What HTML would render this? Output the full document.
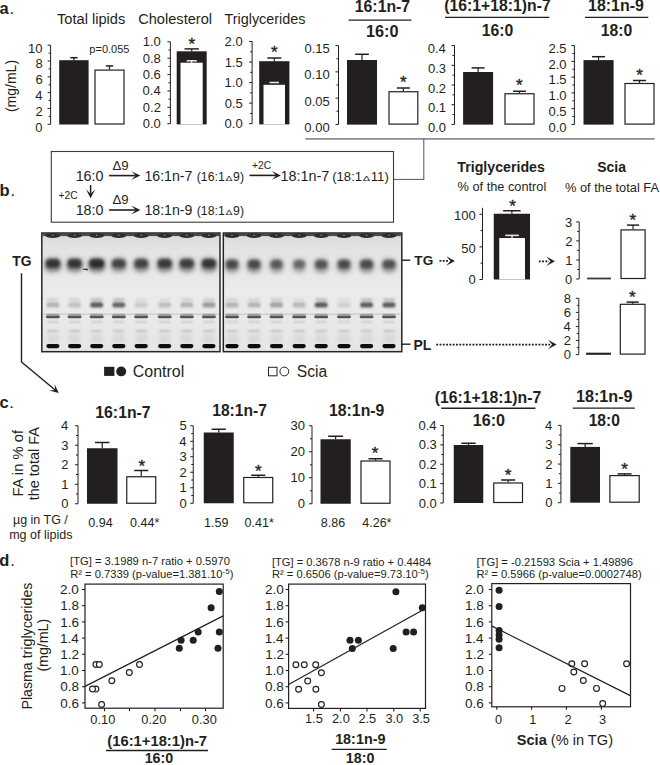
<!DOCTYPE html>
<html><head><meta charset="utf-8"><style>
html,body{margin:0;padding:0;background:#fff;}
svg{display:block;font-family:"Liberation Sans",sans-serif;}
</style></head><body>
<svg width="660" height="765" viewBox="0 0 660 765">
<rect width="660" height="765" fill="#fff"/>
<text x="-0.41" y="13.5" font-size="16.5" font-weight="bold" fill="#231f20">a</text>
<text x="9.6" y="13.5" font-size="16.5" fill="#231f20">.</text>
<text x="57.01" y="23.5" font-size="14.63" fill="#231f20">Total lipids</text>
<text x="138.17" y="23.6" font-size="14.62" fill="#231f20">Cholesterol</text>
<text x="224.51" y="23.6" font-size="14.39" fill="#231f20">Triglycerides</text>
<line x1="50.6" y1="45.2" x2="50.6" y2="124.3" stroke="#231f20" stroke-width="1"/>
<line x1="47.6" y1="45.2" x2="50.6" y2="45.2" stroke="#231f20" stroke-width="1"/>
<text x="42.59" y="52.55" font-size="13" text-anchor="end" fill="#231f20">10</text>
<line x1="48.6" y1="53.11" x2="50.6" y2="53.11" stroke="#231f20" stroke-width="1"/>
<line x1="47.6" y1="61.02" x2="50.6" y2="61.02" stroke="#231f20" stroke-width="1"/>
<text x="42.64" y="68.37" font-size="13" text-anchor="end" fill="#231f20">8</text>
<line x1="48.6" y1="68.93" x2="50.6" y2="68.93" stroke="#231f20" stroke-width="1"/>
<line x1="47.6" y1="76.84" x2="50.6" y2="76.84" stroke="#231f20" stroke-width="1"/>
<text x="42.64" y="84.19" font-size="13" text-anchor="end" fill="#231f20">6</text>
<line x1="48.6" y1="84.75" x2="50.6" y2="84.75" stroke="#231f20" stroke-width="1"/>
<line x1="47.6" y1="92.66" x2="50.6" y2="92.66" stroke="#231f20" stroke-width="1"/>
<text x="42.44" y="100.01" font-size="13" text-anchor="end" fill="#231f20">4</text>
<line x1="48.6" y1="100.57" x2="50.6" y2="100.57" stroke="#231f20" stroke-width="1"/>
<line x1="47.6" y1="108.47999999999999" x2="50.6" y2="108.47999999999999" stroke="#231f20" stroke-width="1"/>
<text x="42.7" y="115.83" font-size="13" text-anchor="end" fill="#231f20">2</text>
<line x1="48.6" y1="116.38999999999999" x2="50.6" y2="116.38999999999999" stroke="#231f20" stroke-width="1"/>
<line x1="47.6" y1="124.3" x2="50.6" y2="124.3" stroke="#231f20" stroke-width="1"/>
<text x="42.57" y="131.65" font-size="13" text-anchor="end" fill="#231f20">0</text>
<line x1="73.9" y1="57.7" x2="73.9" y2="60.2" stroke="#231f20" stroke-width="1.2"/>
<line x1="70.2" y1="57.7" x2="77.60000000000001" y2="57.7" stroke="#231f20" stroke-width="1.5"/>
<rect x="59.2" y="60.2" width="29.39999999999999" height="64.3" fill="#231f20"/>
<line x1="109.5" y1="65.9" x2="109.5" y2="69.6" stroke="#231f20" stroke-width="1.2"/>
<line x1="105.8" y1="65.9" x2="113.2" y2="65.9" stroke="#231f20" stroke-width="1.5"/>
<rect x="95.0" y="70.1" width="29.0" height="53.900000000000006" fill="#fff" stroke="#231f20" stroke-width="1.2"/>
<text x="89.34" y="52.5" font-size="11.02" fill="#231f20">p=0.055</text>
<text transform="translate(16.3,86) rotate(-90)" font-size="14" text-anchor="middle" fill="#231f20">(mg/mL)</text>
<line x1="170.4" y1="41.8" x2="170.4" y2="123.7" stroke="#231f20" stroke-width="1"/>
<line x1="167.4" y1="41.8" x2="170.4" y2="41.8" stroke="#231f20" stroke-width="1"/>
<text x="160.76" y="46.35" font-size="13" text-anchor="end" fill="#231f20">1.0</text>
<line x1="168.4" y1="49.989999999999995" x2="170.4" y2="49.989999999999995" stroke="#231f20" stroke-width="1"/>
<line x1="167.4" y1="58.18" x2="170.4" y2="58.18" stroke="#231f20" stroke-width="1"/>
<text x="160.82" y="62.73" font-size="13" text-anchor="end" fill="#231f20">0.8</text>
<line x1="168.4" y1="66.37" x2="170.4" y2="66.37" stroke="#231f20" stroke-width="1"/>
<line x1="167.4" y1="74.56" x2="170.4" y2="74.56" stroke="#231f20" stroke-width="1"/>
<text x="160.82" y="79.11" font-size="13" text-anchor="end" fill="#231f20">0.6</text>
<line x1="168.4" y1="82.75" x2="170.4" y2="82.75" stroke="#231f20" stroke-width="1"/>
<line x1="167.4" y1="90.94" x2="170.4" y2="90.94" stroke="#231f20" stroke-width="1"/>
<text x="160.63" y="95.49" font-size="13" text-anchor="end" fill="#231f20">0.4</text>
<line x1="168.4" y1="99.13" x2="170.4" y2="99.13" stroke="#231f20" stroke-width="1"/>
<line x1="167.4" y1="107.32000000000001" x2="170.4" y2="107.32000000000001" stroke="#231f20" stroke-width="1"/>
<text x="160.89" y="111.87" font-size="13" text-anchor="end" fill="#231f20">0.2</text>
<line x1="168.4" y1="115.51" x2="170.4" y2="115.51" stroke="#231f20" stroke-width="1"/>
<line x1="167.4" y1="123.7" x2="170.4" y2="123.7" stroke="#231f20" stroke-width="1"/>
<text x="160.76" y="128.25" font-size="13" text-anchor="end" fill="#231f20">0.0</text>
<line x1="191.7" y1="48.9" x2="191.7" y2="51.3" stroke="#231f20" stroke-width="1.2"/>
<line x1="184.5" y1="48.9" x2="198.89999999999998" y2="48.9" stroke="#231f20" stroke-width="1.5"/>
<rect x="176.7" y="51.3" width="30.0" height="73.10000000000001" fill="#231f20"/>
<rect x="180.5" y="62.7" width="22.2" height="61.7" fill="#fff"/>
<line x1="191.6" y1="60.8" x2="191.6" y2="62.7" stroke="#fff" stroke-width="1.2"/>
<line x1="186.6" y1="60.8" x2="196.8" y2="60.8" stroke="#eee" stroke-width="1.5"/>
<text x="191.7" y="50.46" font-size="17" text-anchor="middle" fill="#231f20" stroke="#231f20" stroke-width="0.35">*</text>
<line x1="252.1" y1="41.5" x2="252.1" y2="123.7" stroke="#231f20" stroke-width="1"/>
<line x1="249.1" y1="41.5" x2="252.1" y2="41.5" stroke="#231f20" stroke-width="1"/>
<text x="242.66" y="46.05" font-size="13" text-anchor="end" fill="#231f20">2.0</text>
<line x1="250.1" y1="51.775" x2="252.1" y2="51.775" stroke="#231f20" stroke-width="1"/>
<line x1="249.1" y1="62.05" x2="252.1" y2="62.05" stroke="#231f20" stroke-width="1"/>
<text x="242.72" y="66.6" font-size="13" text-anchor="end" fill="#231f20">1.5</text>
<line x1="250.1" y1="72.325" x2="252.1" y2="72.325" stroke="#231f20" stroke-width="1"/>
<line x1="249.1" y1="82.6" x2="252.1" y2="82.6" stroke="#231f20" stroke-width="1"/>
<text x="242.66" y="87.15" font-size="13" text-anchor="end" fill="#231f20">1.0</text>
<line x1="250.1" y1="92.875" x2="252.1" y2="92.875" stroke="#231f20" stroke-width="1"/>
<line x1="249.1" y1="103.15" x2="252.1" y2="103.15" stroke="#231f20" stroke-width="1"/>
<text x="242.72" y="107.7" font-size="13" text-anchor="end" fill="#231f20">0.5</text>
<line x1="250.1" y1="113.42500000000001" x2="252.1" y2="113.42500000000001" stroke="#231f20" stroke-width="1"/>
<line x1="249.1" y1="123.7" x2="252.1" y2="123.7" stroke="#231f20" stroke-width="1"/>
<text x="242.66" y="128.25" font-size="13" text-anchor="end" fill="#231f20">0.0</text>
<line x1="274.29999999999995" y1="58" x2="274.29999999999995" y2="61.2" stroke="#231f20" stroke-width="1.2"/>
<line x1="267.29999999999995" y1="58" x2="281.29999999999995" y2="58" stroke="#231f20" stroke-width="1.5"/>
<rect x="259.2" y="61.2" width="30.19999999999999" height="63.2" fill="#231f20"/>
<rect x="263.5" y="84.8" width="21.5" height="39.60000000000001" fill="#fff"/>
<line x1="269.5" y1="82.5" x2="279" y2="82.5" stroke="#eee" stroke-width="1.5"/>
<text x="274.25" y="57.76" font-size="17" text-anchor="middle" fill="#231f20" stroke="#231f20" stroke-width="0.35">*</text>
<text x="354.8" y="12.1" font-size="15.81" font-weight="bold" fill="#231f20">16:1n-7</text>
<line x1="348.5" y1="20.1" x2="411.5" y2="20.1" stroke="#231f20" stroke-width="1.3"/>
<text x="366.02" y="36.8" font-size="16.27" font-weight="bold" fill="#231f20">16:0</text>
<text x="444.29" y="11" font-size="15.75" font-weight="bold" fill="#231f20">(16:1+18:1)n-7</text>
<line x1="445" y1="17.3" x2="549.3" y2="17.3" stroke="#231f20" stroke-width="1.3"/>
<text x="481.75" y="35.7" font-size="15.75" font-weight="bold" fill="#231f20">16:0</text>
<text x="588.04" y="11" font-size="15.95" font-weight="bold" fill="#231f20">18:1n-9</text>
<line x1="585" y1="17.3" x2="648.3" y2="17.3" stroke="#231f20" stroke-width="1.3"/>
<text x="600.75" y="35.7" font-size="15.75" font-weight="bold" fill="#231f20">18:0</text>
<line x1="338.5" y1="45.6" x2="338.5" y2="124.4" stroke="#231f20" stroke-width="1"/>
<line x1="335.5" y1="45.6" x2="338.5" y2="45.6" stroke="#231f20" stroke-width="1"/>
<text x="329.74" y="53.15" font-size="13" text-anchor="end" fill="#231f20">0.15</text>
<line x1="336.5" y1="58.733333333333334" x2="338.5" y2="58.733333333333334" stroke="#231f20" stroke-width="1"/>
<line x1="335.5" y1="71.86666666666667" x2="338.5" y2="71.86666666666667" stroke="#231f20" stroke-width="1"/>
<text x="329.67" y="79.42" font-size="13" text-anchor="end" fill="#231f20">0.10</text>
<line x1="336.5" y1="85.00000000000001" x2="338.5" y2="85.00000000000001" stroke="#231f20" stroke-width="1"/>
<line x1="335.5" y1="98.13333333333334" x2="338.5" y2="98.13333333333334" stroke="#231f20" stroke-width="1"/>
<text x="329.74" y="105.68" font-size="13" text-anchor="end" fill="#231f20">0.05</text>
<line x1="336.5" y1="111.26666666666668" x2="338.5" y2="111.26666666666668" stroke="#231f20" stroke-width="1"/>
<line x1="335.5" y1="124.4" x2="338.5" y2="124.4" stroke="#231f20" stroke-width="1"/>
<text x="329.67" y="131.95" font-size="13" text-anchor="end" fill="#231f20">0.00</text>
<line x1="362.0" y1="54.25" x2="362.0" y2="60" stroke="#231f20" stroke-width="1.2"/>
<line x1="355.125" y1="54.25" x2="368.875" y2="54.25" stroke="#231f20" stroke-width="1.5"/>
<rect x="347" y="60" width="30" height="64.6" fill="#231f20"/>
<line x1="403.4" y1="88" x2="403.4" y2="91.25" stroke="#231f20" stroke-width="1.2"/>
<line x1="396.9" y1="88" x2="409.9" y2="88" stroke="#231f20" stroke-width="1.5"/>
<rect x="389.0" y="91.75" width="28.80000000000001" height="32.349999999999994" fill="#fff" stroke="#231f20" stroke-width="1.2"/>
<text x="403.25" y="88.25" font-size="17" text-anchor="middle" fill="#231f20" stroke="#231f20" stroke-width="0.35">*</text>
<line x1="454.5" y1="45.6" x2="454.5" y2="124.4" stroke="#231f20" stroke-width="1"/>
<line x1="451.5" y1="45.6" x2="454.5" y2="45.6" stroke="#231f20" stroke-width="1"/>
<text x="445.83" y="53.15" font-size="13" text-anchor="end" fill="#231f20">0.4</text>
<line x1="452.5" y1="55.45" x2="454.5" y2="55.45" stroke="#231f20" stroke-width="1"/>
<line x1="451.5" y1="65.30000000000001" x2="454.5" y2="65.30000000000001" stroke="#231f20" stroke-width="1"/>
<text x="446.02" y="72.85" font-size="13" text-anchor="end" fill="#231f20">0.3</text>
<line x1="452.5" y1="75.15" x2="454.5" y2="75.15" stroke="#231f20" stroke-width="1"/>
<line x1="451.5" y1="85.0" x2="454.5" y2="85.0" stroke="#231f20" stroke-width="1"/>
<text x="446.09" y="92.55" font-size="13" text-anchor="end" fill="#231f20">0.2</text>
<line x1="452.5" y1="94.85" x2="454.5" y2="94.85" stroke="#231f20" stroke-width="1"/>
<line x1="451.5" y1="104.70000000000002" x2="454.5" y2="104.70000000000002" stroke="#231f20" stroke-width="1"/>
<text x="446.09" y="112.25" font-size="13" text-anchor="end" fill="#231f20">0.1</text>
<line x1="452.5" y1="114.55000000000001" x2="454.5" y2="114.55000000000001" stroke="#231f20" stroke-width="1"/>
<line x1="451.5" y1="124.4" x2="454.5" y2="124.4" stroke="#231f20" stroke-width="1"/>
<text x="445.96" y="131.95" font-size="13" text-anchor="end" fill="#231f20">0.0</text>
<line x1="478.1" y1="67.9" x2="478.1" y2="72" stroke="#231f20" stroke-width="1.2"/>
<line x1="471.6" y1="67.9" x2="484.6" y2="67.9" stroke="#231f20" stroke-width="1.5"/>
<rect x="463.1" y="72" width="30.0" height="52.599999999999994" fill="#231f20"/>
<line x1="519.5" y1="91.25" x2="519.5" y2="93.25" stroke="#231f20" stroke-width="1.2"/>
<line x1="513.0" y1="91.25" x2="526.0" y2="91.25" stroke="#231f20" stroke-width="1.5"/>
<rect x="505.0" y="93.75" width="29.0" height="30.349999999999994" fill="#fff" stroke="#231f20" stroke-width="1.2"/>
<text x="519.25" y="91.25" font-size="17" text-anchor="middle" fill="#231f20" stroke="#231f20" stroke-width="0.35">*</text>
<line x1="574.4" y1="45.6" x2="574.4" y2="124.4" stroke="#231f20" stroke-width="1"/>
<line x1="571.4" y1="45.6" x2="574.4" y2="45.6" stroke="#231f20" stroke-width="1"/>
<text x="566.62" y="52.95" font-size="13" text-anchor="end" fill="#231f20">2.5</text>
<line x1="572.4" y1="53.480000000000004" x2="574.4" y2="53.480000000000004" stroke="#231f20" stroke-width="1"/>
<line x1="571.4" y1="61.36" x2="574.4" y2="61.36" stroke="#231f20" stroke-width="1"/>
<text x="566.56" y="68.71" font-size="13" text-anchor="end" fill="#231f20">2.0</text>
<line x1="572.4" y1="69.24" x2="574.4" y2="69.24" stroke="#231f20" stroke-width="1"/>
<line x1="571.4" y1="77.12" x2="574.4" y2="77.12" stroke="#231f20" stroke-width="1"/>
<text x="566.62" y="84.47" font-size="13" text-anchor="end" fill="#231f20">1.5</text>
<line x1="572.4" y1="85.0" x2="574.4" y2="85.0" stroke="#231f20" stroke-width="1"/>
<line x1="571.4" y1="92.88" x2="574.4" y2="92.88" stroke="#231f20" stroke-width="1"/>
<text x="566.56" y="100.23" font-size="13" text-anchor="end" fill="#231f20">1.0</text>
<line x1="572.4" y1="100.75999999999999" x2="574.4" y2="100.75999999999999" stroke="#231f20" stroke-width="1"/>
<line x1="571.4" y1="108.64000000000001" x2="574.4" y2="108.64000000000001" stroke="#231f20" stroke-width="1"/>
<text x="566.62" y="115.99" font-size="13" text-anchor="end" fill="#231f20">0.5</text>
<line x1="572.4" y1="116.52000000000001" x2="574.4" y2="116.52000000000001" stroke="#231f20" stroke-width="1"/>
<line x1="571.4" y1="124.4" x2="574.4" y2="124.4" stroke="#231f20" stroke-width="1"/>
<text x="566.56" y="131.75" font-size="13" text-anchor="end" fill="#231f20">0.0</text>
<line x1="598.55" y1="56.7" x2="598.55" y2="60.1" stroke="#231f20" stroke-width="1.2"/>
<line x1="592.05" y1="56.7" x2="605.05" y2="56.7" stroke="#231f20" stroke-width="1.5"/>
<rect x="583.5" y="60.1" width="30.100000000000023" height="64.5" fill="#231f20"/>
<line x1="639.5" y1="80.5" x2="639.5" y2="83" stroke="#231f20" stroke-width="1.2"/>
<line x1="633.0" y1="80.5" x2="646.0" y2="80.5" stroke="#231f20" stroke-width="1.5"/>
<rect x="625.0" y="83.5" width="29.0" height="40.599999999999994" fill="#fff" stroke="#231f20" stroke-width="1.2"/>
<text x="639.5" y="80.75" font-size="17" text-anchor="middle" fill="#231f20" stroke="#231f20" stroke-width="0.35">*</text>
<line x1="305.5" y1="138.9" x2="654.5" y2="138.9" stroke="#8c8c8c" stroke-width="1.6"/>
<line x1="423.8" y1="138.9" x2="423.8" y2="179.4" stroke="#555" stroke-width="1"/>
<line x1="393.5" y1="179.4" x2="424.3" y2="179.4" stroke="#555" stroke-width="1"/>
<defs>
<linearGradient id="gelbg" x1="0" y1="0" x2="0" y2="1">
<stop offset="0" stop-color="#d8d8d8"/><stop offset="0.12" stop-color="#e3e3e3"/><stop offset="0.5" stop-color="#ebebeb"/><stop offset="1" stop-color="#e6e6e6"/>
</linearGradient>
<filter id="b05" x="-50%" y="-100%" width="200%" height="300%"><feGaussianBlur stdDeviation="0.6"/></filter>
<filter id="b15" x="-50%" y="-100%" width="200%" height="300%"><feGaussianBlur stdDeviation="1.4"/></filter>
<filter id="b1" x="-50%" y="-100%" width="200%" height="300%"><feGaussianBlur stdDeviation="1"/></filter>
<filter id="b2" x="-50%" y="-100%" width="200%" height="300%"><feGaussianBlur stdDeviation="2"/></filter>
</defs>
<text x="-0.47" y="196.2" font-size="16.5" font-weight="bold" fill="#231f20">b</text>
<text x="10.6" y="196.2" font-size="16.5" fill="#231f20">.</text>
<rect x="51.3" y="151.5" width="342.2" height="70.7" fill="none" stroke="#3a3a3a" stroke-width="1.1"/>
<text x="75.63" y="180.5" font-size="14.33" fill="#231f20">16:0</text>
<line x1="109.1" y1="175.6" x2="135.8" y2="175.6" stroke="#231f20" stroke-width="1.6"/>
<path d="M140.40,175.60 L131.20,180.05 L135.80,175.60 L131.20,171.15 Z" fill="#231f20"/>
<text x="112.47" y="169.7" font-size="13.2" fill="#231f20">Δ9</text>
<text x="144.44" y="180.5" font-size="14.16" fill="#231f20">16:1n-7</text>
<text x="196.76" y="180.5" font-size="12.31" fill="#231f20">(16:1</text>
<text transform="translate(225.44,180.5) scale(0.85,0.62)" font-size="12.31" fill="#231f20">Δ</text>
<text x="233.05" y="180.5" font-size="12.31" fill="#231f20">9)</text>
<line x1="249.5" y1="175.4" x2="276.29999999999995" y2="175.4" stroke="#231f20" stroke-width="1.6"/>
<path d="M280.90,175.40 L271.70,179.85 L276.30,175.40 L271.70,170.95 Z" fill="#231f20"/>
<text x="252.04" y="169.4" font-size="10.2" fill="#231f20">+2C</text>
<text x="280.52" y="180.5" font-size="14.4" fill="#231f20">18:1n-7</text>
<text x="332.21" y="180.5" font-size="13.1" fill="#231f20">(18:1</text>
<text transform="translate(362.72,180.5) scale(0.85,0.62)" font-size="13.10" fill="#231f20">Δ</text>
<text x="370.81" y="180.5" font-size="13.1" fill="#231f20">11)</text>
<line x1="90.6" y1="185" x2="90.6" y2="193.70000000000002" stroke="#231f20" stroke-width="1.5"/>
<path d="M90.60,198.30 L86.10,189.40 L90.60,193.70 L95.10,189.40 Z" fill="#231f20"/>
<text x="58.54" y="199.3" font-size="10.3" fill="#231f20">+2C</text>
<text x="75.63" y="215" font-size="14.33" fill="#231f20">18:0</text>
<line x1="109.1" y1="210" x2="135.8" y2="210.0" stroke="#231f20" stroke-width="1.6"/>
<path d="M140.40,210.00 L131.20,214.45 L135.80,210.00 L131.20,205.55 Z" fill="#231f20"/>
<text x="112.47" y="204" font-size="13.2" fill="#231f20">Δ9</text>
<text x="144.44" y="215" font-size="14.16" fill="#231f20">18:1n-9</text>
<text x="196.76" y="215" font-size="12.31" fill="#231f20">(18:1</text>
<text transform="translate(225.44,215) scale(0.85,0.62)" font-size="12.31" fill="#231f20">Δ</text>
<text x="233.05" y="215" font-size="12.31" fill="#231f20">9)</text>
<rect x="41.8" y="233" width="178.2" height="118.69999999999999" fill="url(#gelbg)"/>
<rect x="42.8" y="233.5" width="176.2" height="2.6" fill="#4a4a4a" filter="url(#b05)"/>
<ellipse cx="52.9" cy="235.6" rx="7.5" ry="2.4" fill="#2e2e2e" filter="url(#b05)"/>
<circle cx="52.9" cy="235.2" r="0.7" fill="#ccc" fill-opacity="0.7"/>
<rect x="44.4" y="257.8" width="17" height="14.5" rx="6" fill="#444" fill-opacity="0.59" filter="url(#b2)"/>
<rect x="45.9" y="259.3" width="14" height="8.5" rx="4" fill="#262626" fill-opacity="0.85" filter="url(#b15)"/>
<rect x="46.9" y="298.3" width="12" height="2.6" rx="1.3" fill="#888" fill-opacity="0.25" filter="url(#b1)"/>
<rect x="46.4" y="302.2" width="13" height="5.4" rx="2.7" fill="#3a3a3a" fill-opacity="0.3" filter="url(#b1)"/>
<rect x="46.4" y="313.7" width="13" height="1.3" rx="0.65" fill="#555" fill-opacity="0.55" filter="url(#b05)"/>
<rect x="45.9" y="315.5" width="14" height="2.7" rx="1.35" fill="#3a3a3a" fill-opacity="0.85" filter="url(#b05)"/>
<rect x="46.9" y="321" width="12" height="2" rx="1" fill="#888" fill-opacity="0.3" filter="url(#b1)"/>
<rect x="46.9" y="330" width="12" height="2" rx="1" fill="#888" fill-opacity="0.4" filter="url(#b1)"/>
<rect x="46.9" y="334" width="12" height="9" rx="3" fill="#aaa" fill-opacity="0.25" filter="url(#b2)"/>
<rect x="46.3" y="344" width="13.2" height="4.2" rx="2.1" fill="#111" filter="url(#b05)"/>
<ellipse cx="74.6" cy="235.6" rx="7.5" ry="2.4" fill="#2e2e2e" filter="url(#b05)"/>
<circle cx="74.6" cy="235.2" r="0.7" fill="#ccc" fill-opacity="0.7"/>
<rect x="66.3" y="257.8" width="16.6" height="14.5" rx="6" fill="#444" fill-opacity="0.59" filter="url(#b2)"/>
<rect x="67.8" y="259.3" width="13.6" height="8.5" rx="4" fill="#262626" fill-opacity="0.85" filter="url(#b15)"/>
<rect x="68.6" y="298.3" width="12" height="2.6" rx="1.3" fill="#888" fill-opacity="0.25" filter="url(#b1)"/>
<rect x="68.1" y="302.2" width="13" height="5.4" rx="2.7" fill="#3a3a3a" fill-opacity="0.22" filter="url(#b1)"/>
<rect x="68.1" y="313.7" width="13" height="1.3" rx="0.65" fill="#555" fill-opacity="0.55" filter="url(#b05)"/>
<rect x="67.6" y="315.5" width="14" height="2.7" rx="1.35" fill="#3a3a3a" fill-opacity="0.85" filter="url(#b05)"/>
<rect x="68.6" y="321" width="12" height="2" rx="1" fill="#888" fill-opacity="0.3" filter="url(#b1)"/>
<rect x="68.6" y="330" width="12" height="2" rx="1" fill="#888" fill-opacity="0.4" filter="url(#b1)"/>
<rect x="68.6" y="334" width="12" height="9" rx="3" fill="#aaa" fill-opacity="0.25" filter="url(#b2)"/>
<rect x="68.0" y="344" width="13.2" height="4.2" rx="2.1" fill="#111" filter="url(#b05)"/>
<ellipse cx="96.7" cy="235.6" rx="7.5" ry="2.4" fill="#2e2e2e" filter="url(#b05)"/>
<circle cx="96.7" cy="235.2" r="0.7" fill="#ccc" fill-opacity="0.7"/>
<rect x="88.0" y="257.8" width="17.4" height="14.5" rx="6" fill="#444" fill-opacity="0.66" filter="url(#b2)"/>
<rect x="89.5" y="259.3" width="14.399999999999999" height="8.5" rx="4" fill="#262626" fill-opacity="0.95" filter="url(#b15)"/>
<rect x="90.7" y="298.3" width="12" height="2.6" rx="1.3" fill="#888" fill-opacity="0.45" filter="url(#b1)"/>
<rect x="90.2" y="302.2" width="13" height="5.4" rx="2.7" fill="#3a3a3a" fill-opacity="0.8" filter="url(#b1)"/>
<rect x="90.2" y="313.7" width="13" height="1.3" rx="0.65" fill="#555" fill-opacity="0.55" filter="url(#b05)"/>
<rect x="89.7" y="315.5" width="14" height="2.7" rx="1.35" fill="#3a3a3a" fill-opacity="0.85" filter="url(#b05)"/>
<rect x="90.7" y="321" width="12" height="2" rx="1" fill="#888" fill-opacity="0.3" filter="url(#b1)"/>
<rect x="90.7" y="330" width="12" height="2" rx="1" fill="#888" fill-opacity="0.4" filter="url(#b1)"/>
<rect x="90.7" y="334" width="12" height="9" rx="3" fill="#aaa" fill-opacity="0.25" filter="url(#b2)"/>
<rect x="90.10000000000001" y="344" width="13.2" height="4.2" rx="2.1" fill="#111" filter="url(#b05)"/>
<ellipse cx="118.8" cy="235.6" rx="7.5" ry="2.4" fill="#2e2e2e" filter="url(#b05)"/>
<circle cx="118.8" cy="235.2" r="0.7" fill="#ccc" fill-opacity="0.7"/>
<rect x="110.7" y="257.8" width="16.2" height="14.5" rx="6" fill="#444" fill-opacity="0.50" filter="url(#b2)"/>
<rect x="112.2" y="259.3" width="13.2" height="8.5" rx="4" fill="#262626" fill-opacity="0.72" filter="url(#b15)"/>
<rect x="112.8" y="298.3" width="12" height="2.6" rx="1.3" fill="#888" fill-opacity="0.45" filter="url(#b1)"/>
<rect x="112.3" y="302.2" width="13" height="5.4" rx="2.7" fill="#3a3a3a" fill-opacity="0.75" filter="url(#b1)"/>
<rect x="112.3" y="313.7" width="13" height="1.3" rx="0.65" fill="#555" fill-opacity="0.55" filter="url(#b05)"/>
<rect x="111.8" y="315.5" width="14" height="2.7" rx="1.35" fill="#3a3a3a" fill-opacity="0.85" filter="url(#b05)"/>
<rect x="112.8" y="321" width="12" height="2" rx="1" fill="#888" fill-opacity="0.3" filter="url(#b1)"/>
<rect x="112.8" y="330" width="12" height="2" rx="1" fill="#888" fill-opacity="0.4" filter="url(#b1)"/>
<rect x="112.8" y="334" width="12" height="9" rx="3" fill="#aaa" fill-opacity="0.25" filter="url(#b2)"/>
<rect x="112.2" y="344" width="13.2" height="4.2" rx="2.1" fill="#111" filter="url(#b05)"/>
<ellipse cx="141.2" cy="235.6" rx="7.5" ry="2.4" fill="#2e2e2e" filter="url(#b05)"/>
<circle cx="141.2" cy="235.2" r="0.7" fill="#ccc" fill-opacity="0.7"/>
<rect x="133.1" y="257.8" width="16.2" height="14.5" rx="6" fill="#444" fill-opacity="0.52" filter="url(#b2)"/>
<rect x="134.6" y="259.3" width="13.2" height="8.5" rx="4" fill="#262626" fill-opacity="0.75" filter="url(#b15)"/>
<rect x="135.2" y="298.3" width="12" height="2.6" rx="1.3" fill="#888" fill-opacity="0.15" filter="url(#b1)"/>
<rect x="134.7" y="302.2" width="13" height="5.4" rx="2.7" fill="#3a3a3a" fill-opacity="0.18" filter="url(#b1)"/>
<rect x="134.7" y="313.7" width="13" height="1.3" rx="0.65" fill="#555" fill-opacity="0.55" filter="url(#b05)"/>
<rect x="134.2" y="315.5" width="14" height="2.7" rx="1.35" fill="#3a3a3a" fill-opacity="0.85" filter="url(#b05)"/>
<rect x="135.2" y="321" width="12" height="2" rx="1" fill="#888" fill-opacity="0.3" filter="url(#b1)"/>
<rect x="135.2" y="330" width="12" height="2" rx="1" fill="#888" fill-opacity="0.4" filter="url(#b1)"/>
<rect x="135.2" y="334" width="12" height="9" rx="3" fill="#aaa" fill-opacity="0.25" filter="url(#b2)"/>
<rect x="134.6" y="344" width="13.2" height="4.2" rx="2.1" fill="#111" filter="url(#b05)"/>
<ellipse cx="164.7" cy="235.6" rx="7.5" ry="2.4" fill="#2e2e2e" filter="url(#b05)"/>
<circle cx="164.7" cy="235.2" r="0.7" fill="#ccc" fill-opacity="0.7"/>
<rect x="156.39999999999998" y="257.8" width="16.6" height="14.5" rx="6" fill="#444" fill-opacity="0.57" filter="url(#b2)"/>
<rect x="157.89999999999998" y="259.3" width="13.6" height="8.5" rx="4" fill="#262626" fill-opacity="0.82" filter="url(#b15)"/>
<rect x="158.7" y="298.3" width="12" height="2.6" rx="1.3" fill="#888" fill-opacity="0.15" filter="url(#b1)"/>
<rect x="158.2" y="302.2" width="13" height="5.4" rx="2.7" fill="#3a3a3a" fill-opacity="0.25" filter="url(#b1)"/>
<rect x="158.2" y="313.7" width="13" height="1.3" rx="0.65" fill="#555" fill-opacity="0.55" filter="url(#b05)"/>
<rect x="157.7" y="315.5" width="14" height="2.7" rx="1.35" fill="#3a3a3a" fill-opacity="0.85" filter="url(#b05)"/>
<rect x="158.7" y="321" width="12" height="2" rx="1" fill="#888" fill-opacity="0.3" filter="url(#b1)"/>
<rect x="158.7" y="330" width="12" height="2" rx="1" fill="#888" fill-opacity="0.4" filter="url(#b1)"/>
<rect x="158.7" y="334" width="12" height="9" rx="3" fill="#aaa" fill-opacity="0.25" filter="url(#b2)"/>
<rect x="158.1" y="344" width="13.2" height="4.2" rx="2.1" fill="#111" filter="url(#b05)"/>
<ellipse cx="186.8" cy="235.6" rx="7.5" ry="2.4" fill="#2e2e2e" filter="url(#b05)"/>
<circle cx="186.8" cy="235.2" r="0.7" fill="#ccc" fill-opacity="0.7"/>
<rect x="178.5" y="257.8" width="16.6" height="14.5" rx="6" fill="#444" fill-opacity="0.55" filter="url(#b2)"/>
<rect x="180.0" y="259.3" width="13.6" height="8.5" rx="4" fill="#262626" fill-opacity="0.78" filter="url(#b15)"/>
<rect x="180.8" y="298.3" width="12" height="2.6" rx="1.3" fill="#888" fill-opacity="0.25" filter="url(#b1)"/>
<rect x="180.3" y="302.2" width="13" height="5.4" rx="2.7" fill="#3a3a3a" fill-opacity="0.3" filter="url(#b1)"/>
<rect x="180.3" y="313.7" width="13" height="1.3" rx="0.65" fill="#555" fill-opacity="0.55" filter="url(#b05)"/>
<rect x="179.8" y="315.5" width="14" height="2.7" rx="1.35" fill="#3a3a3a" fill-opacity="0.85" filter="url(#b05)"/>
<rect x="180.8" y="321" width="12" height="2" rx="1" fill="#888" fill-opacity="0.3" filter="url(#b1)"/>
<rect x="180.8" y="330" width="12" height="2" rx="1" fill="#888" fill-opacity="0.4" filter="url(#b1)"/>
<rect x="180.8" y="334" width="12" height="9" rx="3" fill="#aaa" fill-opacity="0.25" filter="url(#b2)"/>
<rect x="180.20000000000002" y="344" width="13.2" height="4.2" rx="2.1" fill="#111" filter="url(#b05)"/>
<ellipse cx="208.9" cy="235.6" rx="7.5" ry="2.4" fill="#2e2e2e" filter="url(#b05)"/>
<circle cx="208.9" cy="235.2" r="0.7" fill="#ccc" fill-opacity="0.7"/>
<rect x="200.6" y="257.8" width="16.6" height="14.5" rx="6" fill="#444" fill-opacity="0.59" filter="url(#b2)"/>
<rect x="202.1" y="259.3" width="13.6" height="8.5" rx="4" fill="#262626" fill-opacity="0.85" filter="url(#b15)"/>
<rect x="202.9" y="298.3" width="12" height="2.6" rx="1.3" fill="#888" fill-opacity="0.3" filter="url(#b1)"/>
<rect x="202.4" y="302.2" width="13" height="5.4" rx="2.7" fill="#3a3a3a" fill-opacity="0.45" filter="url(#b1)"/>
<rect x="202.4" y="313.7" width="13" height="1.3" rx="0.65" fill="#555" fill-opacity="0.55" filter="url(#b05)"/>
<rect x="201.9" y="315.5" width="14" height="2.7" rx="1.35" fill="#3a3a3a" fill-opacity="0.85" filter="url(#b05)"/>
<rect x="202.9" y="321" width="12" height="2" rx="1" fill="#888" fill-opacity="0.3" filter="url(#b1)"/>
<rect x="202.9" y="330" width="12" height="2" rx="1" fill="#888" fill-opacity="0.4" filter="url(#b1)"/>
<rect x="202.9" y="334" width="12" height="9" rx="3" fill="#aaa" fill-opacity="0.25" filter="url(#b2)"/>
<rect x="202.3" y="344" width="13.2" height="4.2" rx="2.1" fill="#111" filter="url(#b05)"/>
<line x1="42.8" y1="314.2" x2="219" y2="314.2" stroke="#aaa" stroke-width="0.6"/>
<rect x="41.8" y="233" width="178.2" height="118.69999999999999" fill="none" stroke="#262626" stroke-width="1.5"/>
<rect x="223.3" y="233" width="178.5" height="118.69999999999999" fill="url(#gelbg)"/>
<rect x="224.3" y="233.5" width="176.5" height="2.6" fill="#4a4a4a" filter="url(#b05)"/>
<ellipse cx="232" cy="235.6" rx="7.5" ry="2.4" fill="#2e2e2e" filter="url(#b05)"/>
<circle cx="232" cy="235.2" r="0.7" fill="#ccc" fill-opacity="0.7"/>
<rect x="224.5" y="258.5" width="15" height="14.5" rx="6" fill="#444" fill-opacity="0.48" filter="url(#b2)"/>
<rect x="226" y="260" width="12" height="8.5" rx="4" fill="#262626" fill-opacity="0.68" filter="url(#b15)"/>
<rect x="226" y="298.3" width="12" height="2.6" rx="1.3" fill="#888" fill-opacity="0.25" filter="url(#b1)"/>
<rect x="225.5" y="302.2" width="13" height="5.4" rx="2.7" fill="#3a3a3a" fill-opacity="0.3" filter="url(#b1)"/>
<rect x="225.5" y="313.7" width="13" height="1.3" rx="0.65" fill="#555" fill-opacity="0.55" filter="url(#b05)"/>
<rect x="225" y="315.5" width="14" height="2.7" rx="1.35" fill="#3a3a3a" fill-opacity="0.85" filter="url(#b05)"/>
<rect x="226" y="321" width="12" height="2" rx="1" fill="#888" fill-opacity="0.3" filter="url(#b1)"/>
<rect x="226" y="330" width="12" height="2" rx="1" fill="#888" fill-opacity="0.4" filter="url(#b1)"/>
<rect x="226" y="334" width="12" height="9" rx="3" fill="#aaa" fill-opacity="0.25" filter="url(#b2)"/>
<rect x="225.4" y="344" width="13.2" height="4.2" rx="2.1" fill="#111" filter="url(#b05)"/>
<ellipse cx="254.1" cy="235.6" rx="7.5" ry="2.4" fill="#2e2e2e" filter="url(#b05)"/>
<circle cx="254.1" cy="235.2" r="0.7" fill="#ccc" fill-opacity="0.7"/>
<rect x="246.6" y="258.5" width="15" height="14.5" rx="6" fill="#444" fill-opacity="0.49" filter="url(#b2)"/>
<rect x="248.1" y="260" width="12" height="8.5" rx="4" fill="#262626" fill-opacity="0.70" filter="url(#b15)"/>
<rect x="248.1" y="298.3" width="12" height="2.6" rx="1.3" fill="#888" fill-opacity="0.25" filter="url(#b1)"/>
<rect x="247.6" y="302.2" width="13" height="5.4" rx="2.7" fill="#3a3a3a" fill-opacity="0.3" filter="url(#b1)"/>
<rect x="247.6" y="313.7" width="13" height="1.3" rx="0.65" fill="#555" fill-opacity="0.55" filter="url(#b05)"/>
<rect x="247.1" y="315.5" width="14" height="2.7" rx="1.35" fill="#3a3a3a" fill-opacity="0.85" filter="url(#b05)"/>
<rect x="248.1" y="321" width="12" height="2" rx="1" fill="#888" fill-opacity="0.3" filter="url(#b1)"/>
<rect x="248.1" y="330" width="12" height="2" rx="1" fill="#888" fill-opacity="0.4" filter="url(#b1)"/>
<rect x="248.1" y="334" width="12" height="9" rx="3" fill="#aaa" fill-opacity="0.25" filter="url(#b2)"/>
<rect x="247.5" y="344" width="13.2" height="4.2" rx="2.1" fill="#111" filter="url(#b05)"/>
<ellipse cx="276.5" cy="235.6" rx="7.5" ry="2.4" fill="#2e2e2e" filter="url(#b05)"/>
<circle cx="276.5" cy="235.2" r="0.7" fill="#ccc" fill-opacity="0.7"/>
<rect x="269.2" y="258.5" width="14.6" height="14.5" rx="6" fill="#444" fill-opacity="0.42" filter="url(#b2)"/>
<rect x="270.7" y="260" width="11.6" height="8.5" rx="4" fill="#262626" fill-opacity="0.60" filter="url(#b15)"/>
<rect x="270.5" y="298.3" width="12" height="2.6" rx="1.3" fill="#888" fill-opacity="0.3" filter="url(#b1)"/>
<rect x="270.0" y="302.2" width="13" height="5.4" rx="2.7" fill="#3a3a3a" fill-opacity="0.4" filter="url(#b1)"/>
<rect x="270.0" y="313.7" width="13" height="1.3" rx="0.65" fill="#555" fill-opacity="0.55" filter="url(#b05)"/>
<rect x="269.5" y="315.5" width="14" height="2.7" rx="1.35" fill="#3a3a3a" fill-opacity="0.85" filter="url(#b05)"/>
<rect x="270.5" y="321" width="12" height="2" rx="1" fill="#888" fill-opacity="0.3" filter="url(#b1)"/>
<rect x="270.5" y="330" width="12" height="2" rx="1" fill="#888" fill-opacity="0.4" filter="url(#b1)"/>
<rect x="270.5" y="334" width="12" height="9" rx="3" fill="#aaa" fill-opacity="0.25" filter="url(#b2)"/>
<rect x="269.9" y="344" width="13.2" height="4.2" rx="2.1" fill="#111" filter="url(#b05)"/>
<ellipse cx="299.2" cy="235.6" rx="7.5" ry="2.4" fill="#2e2e2e" filter="url(#b05)"/>
<circle cx="299.2" cy="235.2" r="0.7" fill="#ccc" fill-opacity="0.7"/>
<rect x="292.09999999999997" y="258.5" width="14.2" height="14.5" rx="6" fill="#444" fill-opacity="0.35" filter="url(#b2)"/>
<rect x="293.59999999999997" y="260" width="11.2" height="8.5" rx="4" fill="#262626" fill-opacity="0.50" filter="url(#b15)"/>
<rect x="293.2" y="298.3" width="12" height="2.6" rx="1.3" fill="#888" fill-opacity="0.15" filter="url(#b1)"/>
<rect x="292.7" y="302.2" width="13" height="5.4" rx="2.7" fill="#3a3a3a" fill-opacity="0.28" filter="url(#b1)"/>
<rect x="292.7" y="313.7" width="13" height="1.3" rx="0.65" fill="#555" fill-opacity="0.55" filter="url(#b05)"/>
<rect x="292.2" y="315.5" width="14" height="2.7" rx="1.35" fill="#3a3a3a" fill-opacity="0.85" filter="url(#b05)"/>
<rect x="293.2" y="321" width="12" height="2" rx="1" fill="#888" fill-opacity="0.3" filter="url(#b1)"/>
<rect x="293.2" y="330" width="12" height="2" rx="1" fill="#888" fill-opacity="0.4" filter="url(#b1)"/>
<rect x="293.2" y="334" width="12" height="9" rx="3" fill="#aaa" fill-opacity="0.25" filter="url(#b2)"/>
<rect x="292.59999999999997" y="344" width="13.2" height="4.2" rx="2.1" fill="#111" filter="url(#b05)"/>
<ellipse cx="321.2" cy="235.6" rx="7.5" ry="2.4" fill="#2e2e2e" filter="url(#b05)"/>
<circle cx="321.2" cy="235.2" r="0.7" fill="#ccc" fill-opacity="0.7"/>
<rect x="313.7" y="258.5" width="15" height="14.5" rx="6" fill="#444" fill-opacity="0.43" filter="url(#b2)"/>
<rect x="315.2" y="260" width="12" height="8.5" rx="4" fill="#262626" fill-opacity="0.62" filter="url(#b15)"/>
<rect x="315.2" y="298.3" width="12" height="2.6" rx="1.3" fill="#888" fill-opacity="0.45" filter="url(#b1)"/>
<rect x="314.7" y="302.2" width="13" height="5.4" rx="2.7" fill="#3a3a3a" fill-opacity="0.8" filter="url(#b1)"/>
<rect x="314.7" y="313.7" width="13" height="1.3" rx="0.65" fill="#555" fill-opacity="0.55" filter="url(#b05)"/>
<rect x="314.2" y="315.5" width="14" height="2.7" rx="1.35" fill="#3a3a3a" fill-opacity="0.85" filter="url(#b05)"/>
<rect x="315.2" y="321" width="12" height="2" rx="1" fill="#888" fill-opacity="0.3" filter="url(#b1)"/>
<rect x="315.2" y="330" width="12" height="2" rx="1" fill="#888" fill-opacity="0.4" filter="url(#b1)"/>
<rect x="315.2" y="334" width="12" height="9" rx="3" fill="#aaa" fill-opacity="0.25" filter="url(#b2)"/>
<rect x="314.59999999999997" y="344" width="13.2" height="4.2" rx="2.1" fill="#111" filter="url(#b05)"/>
<ellipse cx="344" cy="235.6" rx="7.5" ry="2.4" fill="#2e2e2e" filter="url(#b05)"/>
<circle cx="344" cy="235.2" r="0.7" fill="#ccc" fill-opacity="0.7"/>
<rect x="336.5" y="258.5" width="15" height="14.5" rx="6" fill="#444" fill-opacity="0.48" filter="url(#b2)"/>
<rect x="338" y="260" width="12" height="8.5" rx="4" fill="#262626" fill-opacity="0.68" filter="url(#b15)"/>
<rect x="338" y="298.3" width="12" height="2.6" rx="1.3" fill="#888" fill-opacity="0.15" filter="url(#b1)"/>
<rect x="337.5" y="302.2" width="13" height="5.4" rx="2.7" fill="#3a3a3a" fill-opacity="0.15" filter="url(#b1)"/>
<rect x="337.5" y="313.7" width="13" height="1.3" rx="0.65" fill="#555" fill-opacity="0.55" filter="url(#b05)"/>
<rect x="337" y="315.5" width="14" height="2.7" rx="1.35" fill="#3a3a3a" fill-opacity="0.85" filter="url(#b05)"/>
<rect x="338" y="321" width="12" height="2" rx="1" fill="#888" fill-opacity="0.3" filter="url(#b1)"/>
<rect x="338" y="330" width="12" height="2" rx="1" fill="#888" fill-opacity="0.4" filter="url(#b1)"/>
<rect x="338" y="334" width="12" height="9" rx="3" fill="#aaa" fill-opacity="0.25" filter="url(#b2)"/>
<rect x="337.4" y="344" width="13.2" height="4.2" rx="2.1" fill="#111" filter="url(#b05)"/>
<ellipse cx="366.6" cy="235.6" rx="7.5" ry="2.4" fill="#2e2e2e" filter="url(#b05)"/>
<circle cx="366.6" cy="235.2" r="0.7" fill="#ccc" fill-opacity="0.7"/>
<rect x="358.90000000000003" y="258.5" width="15.4" height="14.5" rx="6" fill="#444" fill-opacity="0.48" filter="url(#b2)"/>
<rect x="360.40000000000003" y="260" width="12.4" height="8.5" rx="4" fill="#262626" fill-opacity="0.68" filter="url(#b15)"/>
<rect x="360.6" y="298.3" width="12" height="2.6" rx="1.3" fill="#888" fill-opacity="0.45" filter="url(#b1)"/>
<rect x="360.1" y="302.2" width="13" height="5.4" rx="2.7" fill="#3a3a3a" fill-opacity="0.8" filter="url(#b1)"/>
<rect x="360.1" y="313.7" width="13" height="1.3" rx="0.65" fill="#555" fill-opacity="0.55" filter="url(#b05)"/>
<rect x="359.6" y="315.5" width="14" height="2.7" rx="1.35" fill="#3a3a3a" fill-opacity="0.85" filter="url(#b05)"/>
<rect x="360.6" y="321" width="12" height="2" rx="1" fill="#888" fill-opacity="0.3" filter="url(#b1)"/>
<rect x="360.6" y="330" width="12" height="2" rx="1" fill="#888" fill-opacity="0.4" filter="url(#b1)"/>
<rect x="360.6" y="334" width="12" height="9" rx="3" fill="#aaa" fill-opacity="0.25" filter="url(#b2)"/>
<rect x="360.0" y="344" width="13.2" height="4.2" rx="2.1" fill="#111" filter="url(#b05)"/>
<ellipse cx="389" cy="235.6" rx="7.5" ry="2.4" fill="#2e2e2e" filter="url(#b05)"/>
<circle cx="389" cy="235.2" r="0.7" fill="#ccc" fill-opacity="0.7"/>
<rect x="381.3" y="258.5" width="15.4" height="14.5" rx="6" fill="#444" fill-opacity="0.45" filter="url(#b2)"/>
<rect x="382.8" y="260" width="12.4" height="8.5" rx="4" fill="#262626" fill-opacity="0.64" filter="url(#b15)"/>
<rect x="383" y="298.3" width="12" height="2.6" rx="1.3" fill="#888" fill-opacity="0.45" filter="url(#b1)"/>
<rect x="382.5" y="302.2" width="13" height="5.4" rx="2.7" fill="#3a3a3a" fill-opacity="0.8" filter="url(#b1)"/>
<rect x="382.5" y="313.7" width="13" height="1.3" rx="0.65" fill="#555" fill-opacity="0.55" filter="url(#b05)"/>
<rect x="382" y="315.5" width="14" height="2.7" rx="1.35" fill="#3a3a3a" fill-opacity="0.85" filter="url(#b05)"/>
<rect x="383" y="321" width="12" height="2" rx="1" fill="#888" fill-opacity="0.3" filter="url(#b1)"/>
<rect x="383" y="330" width="12" height="2" rx="1" fill="#888" fill-opacity="0.4" filter="url(#b1)"/>
<rect x="383" y="334" width="12" height="9" rx="3" fill="#aaa" fill-opacity="0.25" filter="url(#b2)"/>
<rect x="382.4" y="344" width="13.2" height="4.2" rx="2.1" fill="#111" filter="url(#b05)"/>
<line x1="224.3" y1="314.2" x2="400.8" y2="314.2" stroke="#aaa" stroke-width="0.6"/>
<rect x="223.3" y="233" width="178.5" height="118.69999999999999" fill="none" stroke="#262626" stroke-width="1.5"/>
<line x1="82.8" y1="269.3" x2="86.5" y2="269.4" stroke="#333" stroke-width="1.1"/>
<circle cx="86.8" cy="269.5" r="1.1" fill="#333"/>
<text x="12.26" y="265.5" font-size="13.86" font-weight="bold" fill="#231f20">TG</text>
<polyline points="21.5,273.3 21.5,362.3" fill="none" stroke="#231f20" stroke-width="1.4"/>
<line x1="21.5" y1="362" x2="55.21423780701613" y2="390.0574864971141" stroke="#231f20" stroke-width="1.4"/>
<path d="M58.75,393.00 L49.08,390.55 L55.21,390.06 L54.58,383.94 Z" fill="#231f20"/>
<line x1="402" y1="260.2" x2="410.3" y2="260.2" stroke="#231f20" stroke-width="1.4"/>
<text x="414.36" y="265.3" font-size="13.56" font-weight="bold" fill="#231f20">TG</text>
<line x1="401" y1="344.2" x2="410.5" y2="344.2" stroke="#231f20" stroke-width="1.4"/>
<text x="413.6" y="350" font-size="13.92" font-weight="bold" fill="#231f20">PL</text>
<line x1="439.5" y1="260.9" x2="448.9" y2="260.9" stroke="#231f20" stroke-width="1.8" stroke-dasharray="1.9 1.4"/>
<path d="M454.9,260.9 L446.2,256.15 L450.5,260.9 L446.2,265.65 Z" fill="#231f20"/>
<line x1="538.8" y1="261.3" x2="549" y2="261.3" stroke="#231f20" stroke-width="1.8" stroke-dasharray="1.9 1.4"/>
<path d="M555,261.3 L546.3,256.55 L550.6,261.3 L546.3,266.05 Z" fill="#231f20"/>
<line x1="436.2" y1="344.6" x2="550.6" y2="344.6" stroke="#231f20" stroke-width="1.8" stroke-dasharray="1.9 1.4"/>
<path d="M556.6,344.6 L547.9,339.85 L552.2,344.6 L547.9,349.35 Z" fill="#231f20"/>
<text x="457.36" y="172" font-size="14.2" font-weight="bold" fill="#231f20">Triglycerides</text>
<text x="457.55" y="191.25" font-size="12.77" fill="#231f20">% of the control</text>
<line x1="482.5" y1="214.25" x2="482.5" y2="279.5" stroke="#231f20" stroke-width="1"/>
<line x1="479.5" y1="214.25" x2="482.5" y2="214.25" stroke="#231f20" stroke-width="1"/>
<line x1="480.5" y1="230.5625" x2="482.5" y2="230.5625" stroke="#231f20" stroke-width="1"/>
<line x1="479.5" y1="246.875" x2="482.5" y2="246.875" stroke="#231f20" stroke-width="1"/>
<line x1="480.5" y1="263.1875" x2="482.5" y2="263.1875" stroke="#231f20" stroke-width="1"/>
<line x1="479.5" y1="279.5" x2="482.5" y2="279.5" stroke="#231f20" stroke-width="1"/>
<line x1="482.5" y1="207.8" x2="482.5" y2="214.25" stroke="#231f20" stroke-width="1"/>
<text x="475.8" y="219.8" font-size="13" text-anchor="end" fill="#231f20">100</text>
<text x="475.79" y="252.6" font-size="13" text-anchor="end" fill="#231f20">50</text>
<text x="475.77" y="283.8" font-size="13" text-anchor="end" fill="#231f20">0</text>
<line x1="511.875" y1="210.75" x2="511.875" y2="213.75" stroke="#231f20" stroke-width="1.2"/>
<line x1="503.125" y1="210.75" x2="520.625" y2="210.75" stroke="#231f20" stroke-width="1.5"/>
<rect x="493.75" y="213.75" width="36.25" height="65.75" fill="#231f20"/>
<rect x="499.25" y="238" width="25.75" height="41.5" fill="#fff"/>
<line x1="505.2" y1="235.4" x2="518.9" y2="235.4" stroke="#e4e4e4" stroke-width="1.6"/>
<line x1="512" y1="235" x2="512" y2="238" stroke="#fff" stroke-width="1.2"/>
<text x="512.5" y="211.75" font-size="17" text-anchor="middle" fill="#231f20" stroke="#231f20" stroke-width="0.35">*</text>
<text x="597.25" y="171.7" font-size="13.97" font-weight="bold" fill="#231f20">Scia</text>
<text x="565.05" y="191.8" font-size="12.81" fill="#231f20">% of the total FA</text>
<line x1="579.2" y1="221.9" x2="579.2" y2="279" stroke="#231f20" stroke-width="1"/>
<line x1="576.2" y1="221.9" x2="579.2" y2="221.9" stroke="#231f20" stroke-width="1"/>
<text x="572.34" y="227.25" font-size="13" text-anchor="end" fill="#231f20">3</text>
<line x1="577.2" y1="231.41666666666669" x2="579.2" y2="231.41666666666669" stroke="#231f20" stroke-width="1"/>
<line x1="576.2" y1="240.93333333333334" x2="579.2" y2="240.93333333333334" stroke="#231f20" stroke-width="1"/>
<text x="572.4" y="246.28" font-size="13" text-anchor="end" fill="#231f20">2</text>
<line x1="577.2" y1="250.45" x2="579.2" y2="250.45" stroke="#231f20" stroke-width="1"/>
<line x1="576.2" y1="259.9666666666667" x2="579.2" y2="259.9666666666667" stroke="#231f20" stroke-width="1"/>
<text x="572.4" y="265.32" font-size="13" text-anchor="end" fill="#231f20">1</text>
<line x1="577.2" y1="269.48333333333335" x2="579.2" y2="269.48333333333335" stroke="#231f20" stroke-width="1"/>
<line x1="576.2" y1="279.0" x2="579.2" y2="279.0" stroke="#231f20" stroke-width="1"/>
<text x="572.27" y="284.35" font-size="13" text-anchor="end" fill="#231f20">0</text>
<line x1="587.1" y1="278.5" x2="611" y2="278.5" stroke="#3a3a3a" stroke-width="1.8"/>
<line x1="633.05" y1="225.1" x2="633.05" y2="229.4" stroke="#231f20" stroke-width="1.2"/>
<line x1="626.9499999999999" y1="225.1" x2="639.15" y2="225.1" stroke="#231f20" stroke-width="1.5"/>
<rect x="621.0" y="229.9" width="24.100000000000023" height="48.599999999999994" fill="#fff" stroke="#231f20" stroke-width="1.2"/>
<text x="632.9" y="226.16" font-size="17" text-anchor="middle" fill="#231f20" stroke="#231f20" stroke-width="0.35">*</text>
<line x1="578.8" y1="298.3" x2="578.8" y2="354.6" stroke="#231f20" stroke-width="1"/>
<line x1="575.8" y1="298.3" x2="578.8" y2="298.3" stroke="#231f20" stroke-width="1"/>
<text x="570.94" y="303.15" font-size="13" text-anchor="end" fill="#231f20">8</text>
<line x1="576.8" y1="305.33750000000003" x2="578.8" y2="305.33750000000003" stroke="#231f20" stroke-width="1"/>
<line x1="575.8" y1="312.375" x2="578.8" y2="312.375" stroke="#231f20" stroke-width="1"/>
<text x="570.94" y="317.23" font-size="13" text-anchor="end" fill="#231f20">6</text>
<line x1="576.8" y1="319.4125" x2="578.8" y2="319.4125" stroke="#231f20" stroke-width="1"/>
<line x1="575.8" y1="326.45000000000005" x2="578.8" y2="326.45000000000005" stroke="#231f20" stroke-width="1"/>
<text x="570.74" y="331.3" font-size="13" text-anchor="end" fill="#231f20">4</text>
<line x1="576.8" y1="333.48750000000007" x2="578.8" y2="333.48750000000007" stroke="#231f20" stroke-width="1"/>
<line x1="575.8" y1="340.52500000000003" x2="578.8" y2="340.52500000000003" stroke="#231f20" stroke-width="1"/>
<text x="571.0" y="345.38" font-size="13" text-anchor="end" fill="#231f20">2</text>
<line x1="576.8" y1="347.56250000000006" x2="578.8" y2="347.56250000000006" stroke="#231f20" stroke-width="1"/>
<line x1="575.8" y1="354.6" x2="578.8" y2="354.6" stroke="#231f20" stroke-width="1"/>
<text x="570.87" y="359.45" font-size="13" text-anchor="end" fill="#231f20">0</text>
<rect x="586.1" y="352.7" width="24.9" height="2.1" fill="#231f20"/>
<line x1="632.65" y1="302.1" x2="632.65" y2="303.8" stroke="#231f20" stroke-width="1.2"/>
<line x1="626.55" y1="302.1" x2="638.75" y2="302.1" stroke="#231f20" stroke-width="1.5"/>
<rect x="620.3" y="304.3" width="24.700000000000045" height="49.80000000000001" fill="#fff" stroke="#231f20" stroke-width="1.2"/>
<text x="632.4" y="302.56" font-size="17" text-anchor="middle" fill="#231f20" stroke="#231f20" stroke-width="0.35">*</text>
<rect x="104.1" y="366.8" width="10.3" height="9.1" fill="#231f20"/>
<circle cx="121.2" cy="371.4" r="4.95" fill="#231f20"/>
<text x="132.8" y="376.9" font-size="15.98" fill="#231f20">Control</text>
<rect x="268.5" y="367.3" width="8.5" height="8.5" fill="#fff" stroke="#231f20" stroke-width="1"/>
<circle cx="284.3" cy="371.5" r="4.4" fill="#fff" stroke="#231f20" stroke-width="1"/>
<text x="296.8" y="376.9" font-size="15.64" fill="#231f20">Scia</text>
<text x="-0.58" y="407.5" font-size="16.5" font-weight="bold" fill="#231f20">c</text>
<text x="9.2" y="407.5" font-size="16.5" fill="#231f20">.</text>
<text x="95.3" y="417.5" font-size="15.81" font-weight="bold" fill="#231f20">16:1n-7</text>
<line x1="78" y1="425.75" x2="78" y2="503.75" stroke="#231f20" stroke-width="1"/>
<line x1="75" y1="425.75" x2="78" y2="425.75" stroke="#231f20" stroke-width="1"/>
<text x="68.34" y="430.3" font-size="13" text-anchor="end" fill="#231f20">4</text>
<line x1="76" y1="435.5" x2="78" y2="435.5" stroke="#231f20" stroke-width="1"/>
<line x1="75" y1="445.25" x2="78" y2="445.25" stroke="#231f20" stroke-width="1"/>
<text x="68.54" y="449.8" font-size="13" text-anchor="end" fill="#231f20">3</text>
<line x1="76" y1="455.0" x2="78" y2="455.0" stroke="#231f20" stroke-width="1"/>
<line x1="75" y1="464.75" x2="78" y2="464.75" stroke="#231f20" stroke-width="1"/>
<text x="68.6" y="469.3" font-size="13" text-anchor="end" fill="#231f20">2</text>
<line x1="76" y1="474.5" x2="78" y2="474.5" stroke="#231f20" stroke-width="1"/>
<line x1="75" y1="484.25" x2="78" y2="484.25" stroke="#231f20" stroke-width="1"/>
<text x="68.6" y="488.8" font-size="13" text-anchor="end" fill="#231f20">1</text>
<line x1="76" y1="494.0" x2="78" y2="494.0" stroke="#231f20" stroke-width="1"/>
<line x1="75" y1="503.75" x2="78" y2="503.75" stroke="#231f20" stroke-width="1"/>
<text x="68.47" y="508.3" font-size="13" text-anchor="end" fill="#231f20">0</text>
<line x1="102.25" y1="442.5" x2="102.25" y2="448.25" stroke="#231f20" stroke-width="1.2"/>
<line x1="95.0" y1="442.5" x2="109.5" y2="442.5" stroke="#231f20" stroke-width="1.5"/>
<rect x="87" y="448.25" width="30.5" height="55.5" fill="#231f20"/>
<line x1="141.25" y1="470.5" x2="141.25" y2="476.25" stroke="#231f20" stroke-width="1.2"/>
<line x1="134.25" y1="470.5" x2="148.25" y2="470.5" stroke="#231f20" stroke-width="1.5"/>
<rect x="126.75" y="476.75" width="29.0" height="26.5" fill="#fff" stroke="#231f20" stroke-width="1.2"/>
<text x="141.75" y="471.95" font-size="17" text-anchor="middle" fill="#231f20" stroke="#231f20" stroke-width="0.35">*</text>
<text transform="translate(22.6,463.2) rotate(-90)" font-size="14.8" text-anchor="middle" fill="#231f20">FA in % of</text>
<text transform="translate(39,463.7) rotate(-90)" font-size="14.5" text-anchor="middle" fill="#231f20">the total FA</text>
<text x="12.94" y="524.25" font-size="12.5" fill="#231f20">µg in TG /</text>
<text x="9.19" y="538.75" font-size="12.5" fill="#231f20">mg of lipids</text>
<text x="88.31" y="527" font-size="12.5" fill="#231f20">0.94</text>
<text x="130.06" y="527" font-size="12.5" fill="#231f20">0.44*</text>
<text x="212.31" y="415.75" font-size="15.59" font-weight="bold" fill="#231f20">18:1n-7</text>
<line x1="193.25" y1="425.75" x2="193.25" y2="503.25" stroke="#231f20" stroke-width="1"/>
<line x1="190.25" y1="425.75" x2="193.25" y2="425.75" stroke="#231f20" stroke-width="1"/>
<text x="186.79" y="430.3" font-size="13" text-anchor="end" fill="#231f20">5</text>
<line x1="191.25" y1="433.5" x2="193.25" y2="433.5" stroke="#231f20" stroke-width="1"/>
<line x1="190.25" y1="441.25" x2="193.25" y2="441.25" stroke="#231f20" stroke-width="1"/>
<text x="186.59" y="445.8" font-size="13" text-anchor="end" fill="#231f20">4</text>
<line x1="191.25" y1="449.0" x2="193.25" y2="449.0" stroke="#231f20" stroke-width="1"/>
<line x1="190.25" y1="456.75" x2="193.25" y2="456.75" stroke="#231f20" stroke-width="1"/>
<text x="186.79" y="461.3" font-size="13" text-anchor="end" fill="#231f20">3</text>
<line x1="191.25" y1="464.5" x2="193.25" y2="464.5" stroke="#231f20" stroke-width="1"/>
<line x1="190.25" y1="472.25" x2="193.25" y2="472.25" stroke="#231f20" stroke-width="1"/>
<text x="186.85" y="476.8" font-size="13" text-anchor="end" fill="#231f20">2</text>
<line x1="191.25" y1="480.0" x2="193.25" y2="480.0" stroke="#231f20" stroke-width="1"/>
<line x1="190.25" y1="487.75" x2="193.25" y2="487.75" stroke="#231f20" stroke-width="1"/>
<text x="186.85" y="492.3" font-size="13" text-anchor="end" fill="#231f20">1</text>
<line x1="191.25" y1="495.5" x2="193.25" y2="495.5" stroke="#231f20" stroke-width="1"/>
<line x1="190.25" y1="503.25" x2="193.25" y2="503.25" stroke="#231f20" stroke-width="1"/>
<text x="186.72" y="507.8" font-size="13" text-anchor="end" fill="#231f20">0</text>
<line x1="218.75" y1="429.25" x2="218.75" y2="432.5" stroke="#231f20" stroke-width="1.2"/>
<line x1="211.625" y1="429.25" x2="225.875" y2="429.25" stroke="#231f20" stroke-width="1.5"/>
<rect x="203.75" y="432.5" width="30.0" height="70.75" fill="#231f20"/>
<line x1="258.25" y1="475.25" x2="258.25" y2="477" stroke="#231f20" stroke-width="1.2"/>
<line x1="251.25" y1="475.25" x2="265.25" y2="475.25" stroke="#231f20" stroke-width="1.5"/>
<rect x="243.75" y="477.5" width="29.0" height="25.25" fill="#fff" stroke="#231f20" stroke-width="1.2"/>
<text x="258.25" y="476.95" font-size="17" text-anchor="middle" fill="#231f20" stroke="#231f20" stroke-width="0.35">*</text>
<text x="204.06" y="527" font-size="12.5" fill="#231f20">1.59</text>
<text x="244.56" y="527" font-size="12.5" fill="#231f20">0.41*</text>
<text x="329.05" y="415.75" font-size="15.79" font-weight="bold" fill="#231f20">18:1n-9</text>
<line x1="312" y1="425.75" x2="312" y2="503.75" stroke="#231f20" stroke-width="1"/>
<line x1="309" y1="425.75" x2="312" y2="425.75" stroke="#231f20" stroke-width="1"/>
<text x="304.99" y="430.3" font-size="13" text-anchor="end" fill="#231f20">30</text>
<line x1="310" y1="438.75" x2="312" y2="438.75" stroke="#231f20" stroke-width="1"/>
<line x1="309" y1="451.75" x2="312" y2="451.75" stroke="#231f20" stroke-width="1"/>
<text x="304.99" y="456.3" font-size="13" text-anchor="end" fill="#231f20">20</text>
<line x1="310" y1="464.75" x2="312" y2="464.75" stroke="#231f20" stroke-width="1"/>
<line x1="309" y1="477.75" x2="312" y2="477.75" stroke="#231f20" stroke-width="1"/>
<text x="304.99" y="482.3" font-size="13" text-anchor="end" fill="#231f20">10</text>
<line x1="310" y1="490.75" x2="312" y2="490.75" stroke="#231f20" stroke-width="1"/>
<line x1="309" y1="503.75" x2="312" y2="503.75" stroke="#231f20" stroke-width="1"/>
<text x="304.97" y="508.3" font-size="13" text-anchor="end" fill="#231f20">0</text>
<line x1="335.625" y1="436.25" x2="335.625" y2="439.25" stroke="#231f20" stroke-width="1.2"/>
<line x1="328.125" y1="436.25" x2="343.125" y2="436.25" stroke="#231f20" stroke-width="1.5"/>
<rect x="320.5" y="439.25" width="30.25" height="64.5" fill="#231f20"/>
<line x1="375.5" y1="458.75" x2="375.5" y2="460.5" stroke="#231f20" stroke-width="1.2"/>
<line x1="368.5" y1="458.75" x2="382.5" y2="458.75" stroke="#231f20" stroke-width="1.5"/>
<rect x="361.0" y="461.0" width="29.0" height="42.25" fill="#fff" stroke="#231f20" stroke-width="1.2"/>
<text x="375" y="459.45" font-size="17" text-anchor="middle" fill="#231f20" stroke="#231f20" stroke-width="0.35">*</text>
<text x="320.75" y="527" font-size="12.5" fill="#231f20">8.86</text>
<text x="362.25" y="527" font-size="12.5" fill="#231f20">4.26*</text>
<text x="434.79" y="402.5" font-size="15.75" font-weight="bold" fill="#231f20">(16:1+18:1)n-7</text>
<line x1="441.25" y1="408.25" x2="535.5" y2="408.25" stroke="#231f20" stroke-width="1.3"/>
<text x="472.78" y="425.5" font-size="16.14" font-weight="bold" fill="#231f20">16:0</text>
<line x1="443.25" y1="425.5" x2="443.25" y2="503" stroke="#231f20" stroke-width="1"/>
<line x1="440.25" y1="425.5" x2="443.25" y2="425.5" stroke="#231f20" stroke-width="1"/>
<text x="436.58" y="430.05" font-size="13" text-anchor="end" fill="#231f20">0.4</text>
<line x1="441.25" y1="435.1875" x2="443.25" y2="435.1875" stroke="#231f20" stroke-width="1"/>
<line x1="440.25" y1="444.875" x2="443.25" y2="444.875" stroke="#231f20" stroke-width="1"/>
<text x="436.77" y="449.43" font-size="13" text-anchor="end" fill="#231f20">0.3</text>
<line x1="441.25" y1="454.5625" x2="443.25" y2="454.5625" stroke="#231f20" stroke-width="1"/>
<line x1="440.25" y1="464.25" x2="443.25" y2="464.25" stroke="#231f20" stroke-width="1"/>
<text x="436.84" y="468.8" font-size="13" text-anchor="end" fill="#231f20">0.2</text>
<line x1="441.25" y1="473.9375" x2="443.25" y2="473.9375" stroke="#231f20" stroke-width="1"/>
<line x1="440.25" y1="483.625" x2="443.25" y2="483.625" stroke="#231f20" stroke-width="1"/>
<text x="436.84" y="488.18" font-size="13" text-anchor="end" fill="#231f20">0.1</text>
<line x1="441.25" y1="493.3125" x2="443.25" y2="493.3125" stroke="#231f20" stroke-width="1"/>
<line x1="440.25" y1="503.0" x2="443.25" y2="503.0" stroke="#231f20" stroke-width="1"/>
<text x="436.71" y="507.55" font-size="13" text-anchor="end" fill="#231f20">0.0</text>
<line x1="468.5" y1="443.25" x2="468.5" y2="445" stroke="#231f20" stroke-width="1.2"/>
<line x1="461.375" y1="443.25" x2="475.625" y2="443.25" stroke="#231f20" stroke-width="1.5"/>
<rect x="453.75" y="445" width="29.5" height="58" fill="#231f20"/>
<line x1="508.125" y1="480" x2="508.125" y2="482.5" stroke="#231f20" stroke-width="1.2"/>
<line x1="501.125" y1="480" x2="515.125" y2="480" stroke="#231f20" stroke-width="1.5"/>
<rect x="493.75" y="483.0" width="28.75" height="19.5" fill="#fff" stroke="#231f20" stroke-width="1.2"/>
<text x="508" y="480.65" font-size="17" text-anchor="middle" fill="#231f20" stroke="#231f20" stroke-width="0.35">*</text>
<text x="576.03" y="402.4" font-size="16.15" font-weight="bold" fill="#231f20">18:1n-9</text>
<line x1="572.8" y1="408.2" x2="634.9" y2="408.2" stroke="#231f20" stroke-width="1.3"/>
<text x="588.66" y="426" font-size="15.64" font-weight="bold" fill="#231f20">18:0</text>
<line x1="560.9" y1="425.4" x2="560.9" y2="502.7" stroke="#231f20" stroke-width="1"/>
<line x1="557.9" y1="425.4" x2="560.9" y2="425.4" stroke="#231f20" stroke-width="1"/>
<text x="552.34" y="429.95" font-size="13" text-anchor="end" fill="#231f20">4</text>
<line x1="558.9" y1="435.0625" x2="560.9" y2="435.0625" stroke="#231f20" stroke-width="1"/>
<line x1="557.9" y1="444.72499999999997" x2="560.9" y2="444.72499999999997" stroke="#231f20" stroke-width="1"/>
<text x="552.54" y="449.27" font-size="13" text-anchor="end" fill="#231f20">3</text>
<line x1="558.9" y1="454.3875" x2="560.9" y2="454.3875" stroke="#231f20" stroke-width="1"/>
<line x1="557.9" y1="464.04999999999995" x2="560.9" y2="464.04999999999995" stroke="#231f20" stroke-width="1"/>
<text x="552.6" y="468.6" font-size="13" text-anchor="end" fill="#231f20">2</text>
<line x1="558.9" y1="473.7125" x2="560.9" y2="473.7125" stroke="#231f20" stroke-width="1"/>
<line x1="557.9" y1="483.375" x2="560.9" y2="483.375" stroke="#231f20" stroke-width="1"/>
<text x="552.6" y="487.93" font-size="13" text-anchor="end" fill="#231f20">1</text>
<line x1="558.9" y1="493.0375" x2="560.9" y2="493.0375" stroke="#231f20" stroke-width="1"/>
<line x1="557.9" y1="502.7" x2="560.9" y2="502.7" stroke="#231f20" stroke-width="1"/>
<text x="552.47" y="507.25" font-size="13" text-anchor="end" fill="#231f20">0</text>
<line x1="585.15" y1="443.6" x2="585.15" y2="446.9" stroke="#231f20" stroke-width="1.2"/>
<line x1="577.5" y1="443.6" x2="592.8" y2="443.6" stroke="#231f20" stroke-width="1.5"/>
<rect x="570.3" y="446.9" width="29.700000000000045" height="55.80000000000001" fill="#231f20"/>
<line x1="624.55" y1="473.9" x2="624.55" y2="475.1" stroke="#231f20" stroke-width="1.2"/>
<line x1="617.55" y1="473.9" x2="631.55" y2="473.9" stroke="#231f20" stroke-width="1.5"/>
<rect x="609.9" y="475.6" width="29.300000000000068" height="26.599999999999966" fill="#fff" stroke="#231f20" stroke-width="1.2"/>
<text x="624.5" y="475.15" font-size="17" text-anchor="middle" fill="#231f20" stroke="#231f20" stroke-width="0.35">*</text>
<text x="-0.66" y="566" font-size="16.5" font-weight="bold" fill="#231f20">d</text>
<text x="10.2" y="566" font-size="16.5" fill="#231f20">.</text>
<text x="70.12" y="565" font-size="11.19" fill="#231f20">[TG] = 3.1989 n-7 ratio + 0.5970</text>
<text x="70.2" y="578.3" font-size="11.19" fill="#231f20">R² = 0.7339 (p-value=1.381.10<tspan font-size="8" dy="-4">-5</tspan><tspan dy="4">)</tspan></text>
<rect x="85" y="584.1" width="138.2" height="124.10000000000002" fill="none" stroke="#231f20" stroke-width="1.2"/>
<line x1="82" y1="589.5" x2="85" y2="589.5" stroke="#231f20" stroke-width="1.1"/>
<text x="78.87" y="594.1" font-size="13.5" text-anchor="end" fill="#231f20">2.0</text>
<line x1="82" y1="605.7" x2="85" y2="605.7" stroke="#231f20" stroke-width="1.1"/>
<text x="78.94" y="610.3" font-size="13.5" text-anchor="end" fill="#231f20">1.8</text>
<line x1="82" y1="621.9" x2="85" y2="621.9" stroke="#231f20" stroke-width="1.1"/>
<text x="78.94" y="626.5" font-size="13.5" text-anchor="end" fill="#231f20">1.6</text>
<line x1="82" y1="638.1" x2="85" y2="638.1" stroke="#231f20" stroke-width="1.1"/>
<text x="78.74" y="642.7" font-size="13.5" text-anchor="end" fill="#231f20">1.4</text>
<line x1="82" y1="654.3" x2="85" y2="654.3" stroke="#231f20" stroke-width="1.1"/>
<text x="79.01" y="658.9" font-size="13.5" text-anchor="end" fill="#231f20">1.2</text>
<line x1="82" y1="670.5" x2="85" y2="670.5" stroke="#231f20" stroke-width="1.1"/>
<text x="78.87" y="675.1" font-size="13.5" text-anchor="end" fill="#231f20">1.0</text>
<line x1="82" y1="686.6999999999999" x2="85" y2="686.6999999999999" stroke="#231f20" stroke-width="1.1"/>
<text x="78.94" y="691.3" font-size="13.5" text-anchor="end" fill="#231f20">0.8</text>
<line x1="82" y1="702.9" x2="85" y2="702.9" stroke="#231f20" stroke-width="1.1"/>
<text x="78.94" y="707.5" font-size="13.5" text-anchor="end" fill="#231f20">0.6</text>
<line x1="104.5" y1="708.2" x2="104.5" y2="711.2" stroke="#231f20" stroke-width="1.1"/>
<line x1="129.5" y1="708.2" x2="129.5" y2="711.2" stroke="#231f20" stroke-width="1.1"/>
<line x1="155" y1="708.2" x2="155" y2="711.2" stroke="#231f20" stroke-width="1.1"/>
<line x1="180.5" y1="708.2" x2="180.5" y2="711.2" stroke="#231f20" stroke-width="1.1"/>
<line x1="205.5" y1="708.2" x2="205.5" y2="711.2" stroke="#231f20" stroke-width="1.1"/>
<text x="90.35" y="723.6" font-size="12.8" fill="#231f20">0.10</text>
<text x="141.35" y="723.6" font-size="12.8" fill="#231f20">0.20</text>
<text x="191.85" y="723.6" font-size="12.8" fill="#231f20">0.30</text>
<circle cx="95.9" cy="689.1" r="2.9" fill="#fff" stroke="#231f20" stroke-width="1.15"/>
<circle cx="92.5" cy="689.1" r="2.9" fill="#fff" stroke="#231f20" stroke-width="1.15"/>
<circle cx="95.9" cy="664.5" r="2.9" fill="#fff" stroke="#231f20" stroke-width="1.15"/>
<circle cx="99.3" cy="664.5" r="2.9" fill="#fff" stroke="#231f20" stroke-width="1.15"/>
<circle cx="101.6" cy="704.5" r="2.9" fill="#fff" stroke="#231f20" stroke-width="1.15"/>
<circle cx="111.8" cy="680.7" r="2.9" fill="#fff" stroke="#231f20" stroke-width="1.15"/>
<circle cx="129.3" cy="672.5" r="2.9" fill="#fff" stroke="#231f20" stroke-width="1.15"/>
<circle cx="139.5" cy="664.5" r="2.9" fill="#fff" stroke="#231f20" stroke-width="1.15"/>
<circle cx="179.3" cy="648.2" r="3.5" fill="#231f20"/>
<circle cx="181.1" cy="640.2" r="3.5" fill="#231f20"/>
<circle cx="193.2" cy="640.2" r="3.5" fill="#231f20"/>
<circle cx="198.2" cy="632" r="3.5" fill="#231f20"/>
<circle cx="211.1" cy="607.7" r="3.5" fill="#231f20"/>
<circle cx="219.3" cy="591.4" r="3.5" fill="#231f20"/>
<circle cx="219.3" cy="632" r="3.5" fill="#231f20"/>
<circle cx="218" cy="648.2" r="3.5" fill="#231f20"/>
<line x1="85" y1="686.4" x2="223.2" y2="615.9" stroke="#231f20" stroke-width="1.2"/>
<text transform="translate(31.6,646.1) rotate(-90)" font-size="14.2" text-anchor="middle" fill="#231f20">Plasma triglycerides</text>
<text transform="translate(48.3,645.2) rotate(-90)" font-size="14.2" text-anchor="middle" fill="#231f20">(mg/mL)</text>
<text x="107.33" y="746.4" font-size="14.78" font-weight="bold" fill="#231f20">(16:1+18:1)n-7</text>
<line x1="106" y1="750.5" x2="208" y2="750.5" stroke="#231f20" stroke-width="1.3"/>
<text x="144.64" y="762.7" font-size="14.28" font-weight="bold" fill="#231f20">16:0</text>
<text x="271.92" y="565.5" font-size="11.16" fill="#231f20">[TG] = 0.3678 n-9 ratio + 0.4484</text>
<text x="272.0" y="578.3" font-size="11.16" fill="#231f20">R² = 0.6506 (p-value=9.73.10<tspan font-size="8" dy="-4">-5</tspan><tspan dy="4">)</tspan></text>
<rect x="288.6" y="584.1" width="136.89999999999998" height="124.29999999999995" fill="none" stroke="#231f20" stroke-width="1.2"/>
<line x1="285.6" y1="589.5" x2="288.6" y2="589.5" stroke="#231f20" stroke-width="1.1"/>
<text x="283.77" y="594.1" font-size="13.5" text-anchor="end" fill="#231f20">2.0</text>
<line x1="285.6" y1="605.7" x2="288.6" y2="605.7" stroke="#231f20" stroke-width="1.1"/>
<text x="283.84" y="610.3" font-size="13.5" text-anchor="end" fill="#231f20">1.8</text>
<line x1="285.6" y1="621.9" x2="288.6" y2="621.9" stroke="#231f20" stroke-width="1.1"/>
<text x="283.84" y="626.5" font-size="13.5" text-anchor="end" fill="#231f20">1.6</text>
<line x1="285.6" y1="638.1" x2="288.6" y2="638.1" stroke="#231f20" stroke-width="1.1"/>
<text x="283.64" y="642.7" font-size="13.5" text-anchor="end" fill="#231f20">1.4</text>
<line x1="285.6" y1="654.3" x2="288.6" y2="654.3" stroke="#231f20" stroke-width="1.1"/>
<text x="283.91" y="658.9" font-size="13.5" text-anchor="end" fill="#231f20">1.2</text>
<line x1="285.6" y1="670.5" x2="288.6" y2="670.5" stroke="#231f20" stroke-width="1.1"/>
<text x="283.77" y="675.1" font-size="13.5" text-anchor="end" fill="#231f20">1.0</text>
<line x1="285.6" y1="686.6999999999999" x2="288.6" y2="686.6999999999999" stroke="#231f20" stroke-width="1.1"/>
<text x="283.84" y="691.3" font-size="13.5" text-anchor="end" fill="#231f20">0.8</text>
<line x1="285.6" y1="702.9" x2="288.6" y2="702.9" stroke="#231f20" stroke-width="1.1"/>
<text x="283.84" y="707.5" font-size="13.5" text-anchor="end" fill="#231f20">0.6</text>
<line x1="313.6" y1="708.4" x2="313.6" y2="711.4" stroke="#231f20" stroke-width="1.1"/>
<line x1="340.4" y1="708.4" x2="340.4" y2="711.4" stroke="#231f20" stroke-width="1.1"/>
<line x1="367" y1="708.4" x2="367" y2="711.4" stroke="#231f20" stroke-width="1.1"/>
<line x1="393.8" y1="708.4" x2="393.8" y2="711.4" stroke="#231f20" stroke-width="1.1"/>
<line x1="420.2" y1="708.4" x2="420.2" y2="711.4" stroke="#231f20" stroke-width="1.1"/>
<text x="304.98" y="723.1" font-size="12.8" fill="#231f20">1.5</text>
<text x="332.01" y="723.1" font-size="12.8" fill="#231f20">2.0</text>
<text x="358.44" y="723.1" font-size="12.8" fill="#231f20">2.5</text>
<text x="385.4" y="723.1" font-size="12.8" fill="#231f20">3.0</text>
<text x="412.14" y="723.1" font-size="12.8" fill="#231f20">3.5</text>
<circle cx="295.9" cy="664.8" r="2.9" fill="#fff" stroke="#231f20" stroke-width="1.15"/>
<circle cx="304.3" cy="664.8" r="2.9" fill="#fff" stroke="#231f20" stroke-width="1.15"/>
<circle cx="315.7" cy="664.8" r="2.9" fill="#fff" stroke="#231f20" stroke-width="1.15"/>
<circle cx="321.4" cy="672.7" r="2.9" fill="#fff" stroke="#231f20" stroke-width="1.15"/>
<circle cx="307.7" cy="681.1" r="2.9" fill="#fff" stroke="#231f20" stroke-width="1.15"/>
<circle cx="298.6" cy="689.3" r="2.9" fill="#fff" stroke="#231f20" stroke-width="1.15"/>
<circle cx="315.9" cy="689.3" r="2.9" fill="#fff" stroke="#231f20" stroke-width="1.15"/>
<circle cx="321.4" cy="704.5" r="2.9" fill="#fff" stroke="#231f20" stroke-width="1.15"/>
<circle cx="395.9" cy="591.8" r="3.5" fill="#231f20"/>
<circle cx="422.3" cy="607.7" r="3.5" fill="#231f20"/>
<circle cx="406.1" cy="632" r="3.5" fill="#231f20"/>
<circle cx="413.6" cy="632" r="3.5" fill="#231f20"/>
<circle cx="350" cy="640.2" r="3.5" fill="#231f20"/>
<circle cx="358.4" cy="640.2" r="3.5" fill="#231f20"/>
<circle cx="352.3" cy="648.6" r="3.5" fill="#231f20"/>
<circle cx="393.2" cy="648.6" r="3.5" fill="#231f20"/>
<line x1="288.6" y1="684.5" x2="425.5" y2="608.4" stroke="#231f20" stroke-width="1.2"/>
<text x="335.14" y="744" font-size="14.39" font-weight="bold" fill="#231f20">18:1n-9</text>
<line x1="331.7" y1="749.3" x2="386.7" y2="749.3" stroke="#231f20" stroke-width="1.3"/>
<text x="345.84" y="762.7" font-size="14.33" font-weight="bold" fill="#231f20">18:0</text>
<text x="476.52" y="565.5" font-size="11.18" fill="#231f20">[TG] = -0.21593 Scia + 1.49896</text>
<text x="476.41" y="578.3" font-size="11.18" fill="#231f20">R² = 0.5966 (p-value=0.0002748)</text>
<rect x="491.8" y="583.6" width="138.7" height="123.19999999999993" fill="none" stroke="#231f20" stroke-width="1.2"/>
<line x1="488.8" y1="589.5" x2="491.8" y2="589.5" stroke="#231f20" stroke-width="1.1"/>
<text x="483.77" y="594.1" font-size="13.5" text-anchor="end" fill="#231f20">2.0</text>
<line x1="488.8" y1="605.7" x2="491.8" y2="605.7" stroke="#231f20" stroke-width="1.1"/>
<text x="483.84" y="610.3" font-size="13.5" text-anchor="end" fill="#231f20">1.8</text>
<line x1="488.8" y1="621.9" x2="491.8" y2="621.9" stroke="#231f20" stroke-width="1.1"/>
<text x="483.84" y="626.5" font-size="13.5" text-anchor="end" fill="#231f20">1.6</text>
<line x1="488.8" y1="638.1" x2="491.8" y2="638.1" stroke="#231f20" stroke-width="1.1"/>
<text x="483.64" y="642.7" font-size="13.5" text-anchor="end" fill="#231f20">1.4</text>
<line x1="488.8" y1="654.3" x2="491.8" y2="654.3" stroke="#231f20" stroke-width="1.1"/>
<text x="483.91" y="658.9" font-size="13.5" text-anchor="end" fill="#231f20">1.2</text>
<line x1="488.8" y1="670.5" x2="491.8" y2="670.5" stroke="#231f20" stroke-width="1.1"/>
<text x="483.77" y="675.1" font-size="13.5" text-anchor="end" fill="#231f20">1.0</text>
<line x1="488.8" y1="686.6999999999999" x2="491.8" y2="686.6999999999999" stroke="#231f20" stroke-width="1.1"/>
<text x="483.84" y="691.3" font-size="13.5" text-anchor="end" fill="#231f20">0.8</text>
<line x1="488.8" y1="702.9" x2="491.8" y2="702.9" stroke="#231f20" stroke-width="1.1"/>
<text x="483.84" y="707.5" font-size="13.5" text-anchor="end" fill="#231f20">0.6</text>
<line x1="496.8" y1="706.8" x2="496.8" y2="709.8" stroke="#231f20" stroke-width="1.1"/>
<line x1="531.6" y1="706.8" x2="531.6" y2="709.8" stroke="#231f20" stroke-width="1.1"/>
<line x1="566.4" y1="706.8" x2="566.4" y2="709.8" stroke="#231f20" stroke-width="1.1"/>
<line x1="601.4" y1="706.8" x2="601.4" y2="709.8" stroke="#231f20" stroke-width="1.1"/>
<text x="495.05" y="724.1" font-size="12.8" fill="#231f20">0</text>
<text x="529.26" y="724.1" font-size="12.8" fill="#231f20">1</text>
<text x="564.42" y="724.1" font-size="12.8" fill="#231f20">2</text>
<text x="598.88" y="724.1" font-size="12.8" fill="#231f20">3</text>
<circle cx="499.1" cy="590.3" r="3.5" fill="#231f20"/>
<circle cx="499.1" cy="606.5" r="3.5" fill="#231f20"/>
<circle cx="499.1" cy="630.5" r="3.5" fill="#231f20"/>
<circle cx="499.1" cy="634.9" r="3.5" fill="#231f20"/>
<circle cx="499.1" cy="639.2" r="3.5" fill="#231f20"/>
<circle cx="499.1" cy="647.7" r="3.5" fill="#231f20"/>
<circle cx="571.8" cy="663.7" r="2.9" fill="#fff" stroke="#231f20" stroke-width="1.15"/>
<circle cx="584.6" cy="663.7" r="2.9" fill="#fff" stroke="#231f20" stroke-width="1.15"/>
<circle cx="626.6" cy="663.7" r="2.9" fill="#fff" stroke="#231f20" stroke-width="1.15"/>
<circle cx="573.8" cy="672" r="2.9" fill="#fff" stroke="#231f20" stroke-width="1.15"/>
<circle cx="583.3" cy="680.5" r="2.9" fill="#fff" stroke="#231f20" stroke-width="1.15"/>
<circle cx="562" cy="688.4" r="2.9" fill="#fff" stroke="#231f20" stroke-width="1.15"/>
<circle cx="596.5" cy="688.4" r="2.9" fill="#fff" stroke="#231f20" stroke-width="1.15"/>
<circle cx="602.7" cy="703.6" r="2.9" fill="#fff" stroke="#231f20" stroke-width="1.15"/>
<line x1="491.5" y1="625.9" x2="630.8" y2="695.9" stroke="#231f20" stroke-width="1.2"/>
<text x="516.74" y="744.9" font-size="14.6" font-weight="bold" fill="#231f20">Scia</text>
<text x="550.83" y="744.9" font-size="14.6" fill="#231f20">(% in TG)</text>
</svg></body></html>
